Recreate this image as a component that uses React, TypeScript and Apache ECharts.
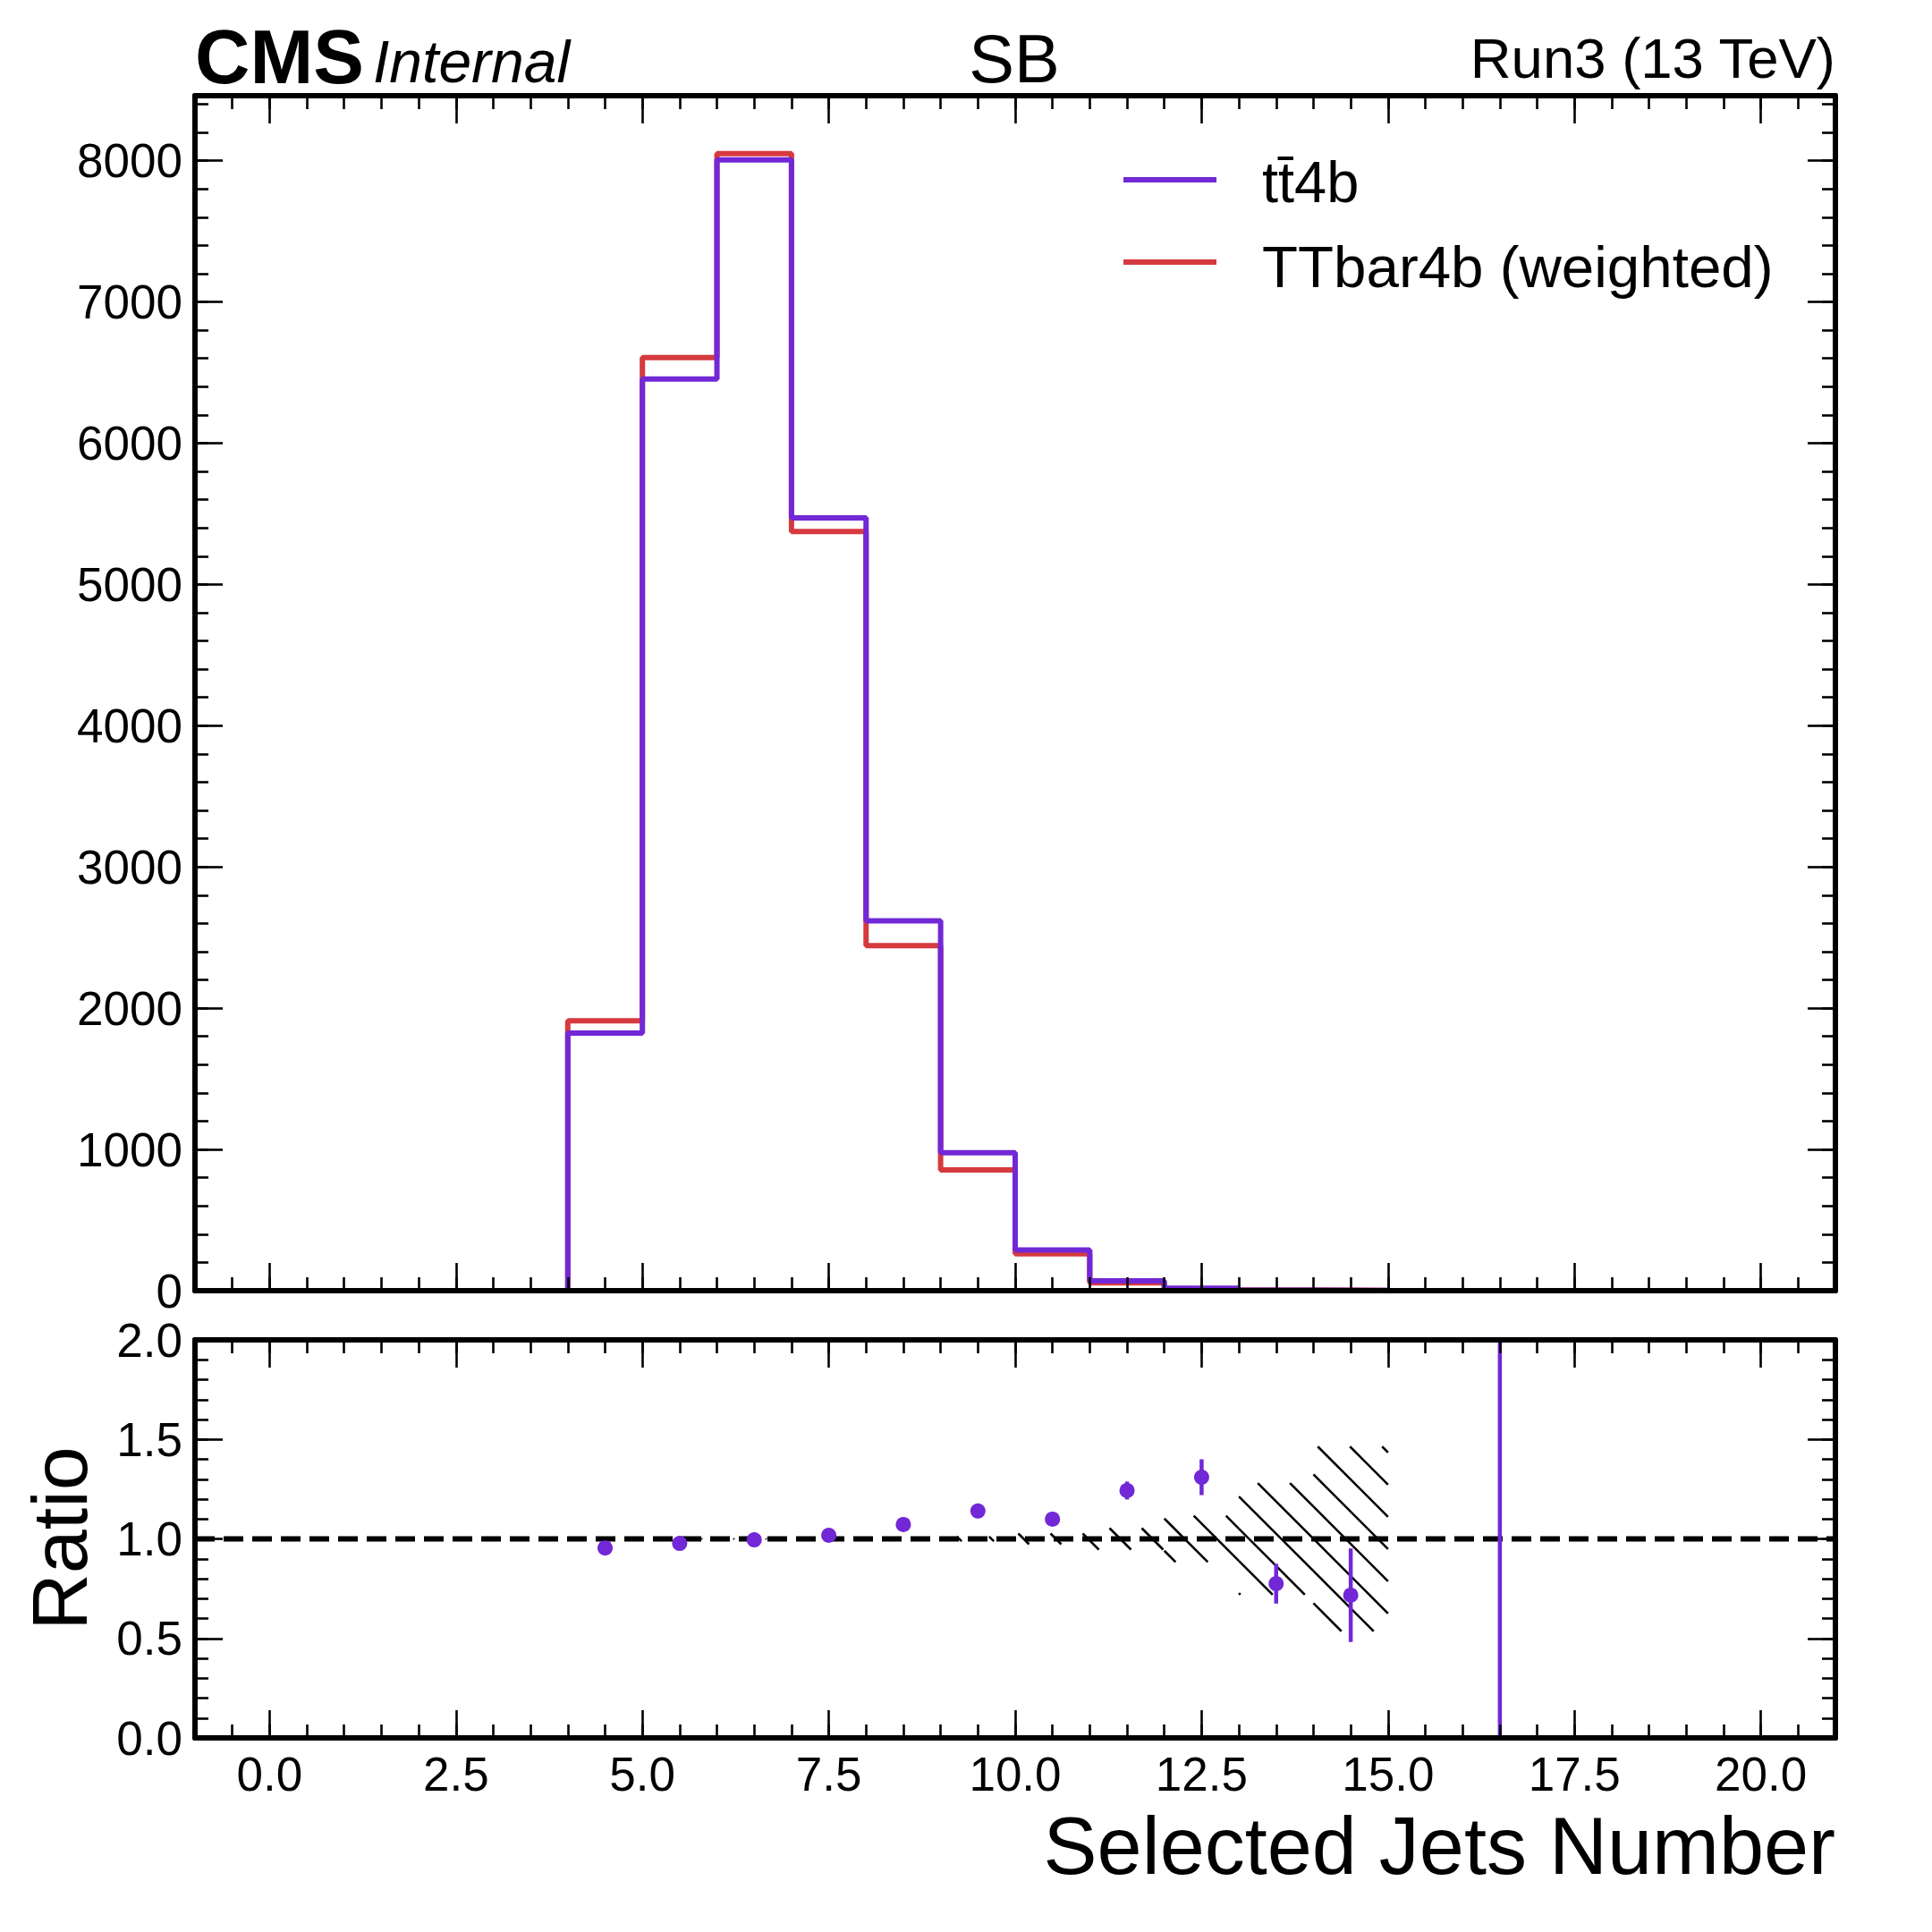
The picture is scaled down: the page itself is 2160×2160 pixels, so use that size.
import React, { useEffect, useRef } from "react";
import * as echarts from "echarts";

// ---------- data ----------
const binEdges = [0, 1, 2, 3, 4, 5, 6, 7, 8, 9, 10, 11, 12, 13, 14, 15, 16, 17, 18, 19, 20];
const tt4b = [0, 0, 0, 0, 1824, 6455, 8005, 5471, 2618, 977, 288, 70, 17, 3.9, 1.45, 0, 0.5, 0, 0, 0];
const ttbar4bWeighted = [0, 0, 0, 0, 1911, 6606, 8050, 5375, 2443, 855, 262, 56, 13, 5, 2, 0, 0, 0, 0, 0];
const ratioVals = [null, null, null, null, 0.954, 0.977, 0.995, 1.018, 1.072, 1.14, 1.099, 1.243, 1.31, 0.775, 0.717, null, Infinity, null, null, null];
const ratioErr = [0, 0, 0, 0, 0.005, 0.003, 0.003, 0.004, 0.007, 0.014, 0.028, 0.045, 0.09, 0.1, 0.235, 0, 0, 0, 0, 0];
const bandErr = [null, null, null, null, 0.003, 0.002, 0.002, 0.002, 0.006, 0.012, 0.027, 0.054, 0.116, 0.28, 0.464, null, null, null, null, null];
const xMajorTicks = [0, 2.5, 5, 7.5, 10, 12.5, 15, 17.5, 20];
const xRange = [-1, 21];
const mainYRange = [0, 8460];
const ratioYRange = [0, 2];
const refValue = 1;

const PURPLE = "#7228d6";
const RED = "#d63a3e";
const FONT = '"Liberation Sans", Arial, Helvetica, sans-serif';

function makeAxis(o: any) {
  const tick: any = {
    show: true,
    inside: true,
    length: o.major ? 31 : 15,
    lineStyle: { color: "#000", width: 2.6 },
  };
  const label: any = {
    show: !!o.labels,
    color: "#000",
    fontSize: 53,
    fontFamily: FONT,
    margin: o.margin ?? 14,
    formatter: o.formatter,
  };
  if (o.customValues) {
    tick.customValues = o.customValues;
    label.customValues = o.customValues;
  }
  const ax: any = {
    type: "value",
    gridIndex: o.gridIndex,
    position: o.position,
    min: o.min,
    max: o.max,
    z: 10,
    splitLine: { show: false },
    axisLine: { show: !!o.line, onZero: false, lineStyle: { color: "#000", width: 6 } },
    axisTick: tick,
    axisLabel: label,
  };
  if (o.interval != null) ax.interval = o.interval;
  return ax;
}

function stepData(vals: number[]) {
  return binEdges.map((e, i) => [e, vals[Math.min(i, vals.length - 1)]]);
}

export default function App() {
  const ref = useRef<HTMLDivElement>(null);
  useEffect(() => {
    document.body.style.margin = "0";
    const chart = echarts.init(ref.current!, null, { renderer: "svg" });

    const xAxes: any[] = [];
    const yAxes: any[] = [];
    [0, 1].forEach((g) => {
      ["bottom", "top"].forEach((pos) => {
        xAxes.push(
          makeAxis({
            gridIndex: g, position: pos, min: xRange[0], max: xRange[1], major: true, line: true,
            customValues: xMajorTicks, labels: g === 1 && pos === "bottom", margin: 14,
            formatter: (v: number) => v.toFixed(1),
          })
        );
        xAxes.push(
          makeAxis({ gridIndex: g, position: pos, min: xRange[0], max: xRange[1], interval: 0.5, major: false })
        );
      });
      const yr = g === 0 ? mainYRange : ratioYRange;
      const majI = g === 0 ? 1000 : 0.5;
      const minI = g === 0 ? 200 : 0.1;
      ["left", "right"].forEach((pos) => {
        yAxes.push(
          makeAxis({
            gridIndex: g, position: pos, min: yr[0], max: yr[1], interval: majI, major: true, line: true,
            labels: pos === "left",
            formatter: g === 0
              ? (v: number) => (Math.abs(v % 1000) < 1e-6 ? String(v) : "")
              : (v: number) => v.toFixed(1),
          })
        );
        yAxes.push(makeAxis({ gridIndex: g, position: pos, min: yr[0], max: yr[1], interval: minI, major: false }));
      });
    });
    // x axes per grid: bottom-major, bottom-minor, top-major, top-minor -> grid0: 0..3, grid1: 4..7
    // y axes per grid: left-major, left-minor, right-major, right-minor -> grid0: 0..3, grid1: 4..7

    const bandData: any[] = [];
    bandErr.forEach((e, i) => {
      if (e != null) bandData.push([binEdges[i], binEdges[i + 1], refValue - e, refValue + e]);
    });
    const pointData: any[] = [];
    const errData: any[] = [];
    ratioVals.forEach((r, i) => {
      if (r == null) return;
      const c = (binEdges[i] + binEdges[i + 1]) / 2;
      if (isFinite(r)) {
        pointData.push([c, r]);
        errData.push([c, r, ratioErr[i], 0]);
      } else {
        errData.push([c, refValue, 0, 1]);
      }
    });

    const option: any = {
      animation: false,
      backgroundColor: "#fff",
      grid: [
        { left: 218, top: 107, width: 1834, height: 1336, containLabel: false },
        { left: 218, top: 1498, width: 1834, height: 445, containLabel: false },
      ],
      xAxis: xAxes,
      yAxis: yAxes,
      series: [
        {
          name: "TTbar4b (weighted)", type: "line", step: "end", xAxisIndex: 0, yAxisIndex: 0,
          data: stepData(ttbar4bWeighted), showSymbol: false, symbol: "none", clip: true, z: 2,
          lineStyle: { color: RED, width: 6 }, itemStyle: { color: RED },
        },
        {
          name: "tt̄4b", type: "line", step: "end", xAxisIndex: 0, yAxisIndex: 0,
          data: stepData(tt4b), showSymbol: false, symbol: "none", clip: true, z: 3,
          lineStyle: { color: PURPLE, width: 6 }, itemStyle: { color: PURPLE },
        },
        {
          type: "custom", xAxisIndex: 4, yAxisIndex: 4, z: 1, clip: true,
          data: bandData,
          encode: { x: [0, 1], y: [2, 3] },
          renderItem: (params: any, api: any) => {
            const p0 = api.coord([api.value(0), api.value(3)]);
            const p1 = api.coord([api.value(1), api.value(2)]);
            const rx0 = p0[0], ry0 = p0[1], rx1 = p1[0], ry1 = p1[1];
            const spacing = 36;
            const children: any[] = [];
            const cmin = rx0 - ry1, cmax = rx1 - ry0;
            for (let c = Math.ceil(cmin / spacing) * spacing; c <= cmax; c += spacing) {
              const xa = Math.max(rx0, ry0 + c);
              const xb = Math.min(rx1, ry1 + c);
              if (xb > xa) {
                children.push({
                  type: "line",
                  shape: { x1: xa, y1: xa - c, x2: xb, y2: xb - c },
                  style: { stroke: "#000", lineWidth: 2.6 },
                });
              }
            }
            return { type: "group", children };
          },
        },
        {
          type: "line", xAxisIndex: 4, yAxisIndex: 4, z: 2, showSymbol: false, symbol: "none",
          data: [[xRange[0], refValue], [xRange[1], refValue]],
          lineStyle: { color: "#000", width: 6, type: [22, 10] },
        },
        {
          type: "custom", xAxisIndex: 4, yAxisIndex: 4, z: 3, clip: true,
          data: errData,
          encode: { x: 0, y: 1 },
          renderItem: (params: any, api: any) => {
            const x = api.value(0), y = api.value(1), e = api.value(2), inf = api.value(3);
            let y1: number, y2: number, px: number;
            const cs = params.coordSys;
            if (inf) {
              px = api.coord([x, y])[0];
              y1 = cs.y;
              y2 = cs.y + cs.height;
            } else {
              const a = api.coord([x, y - e]);
              const b = api.coord([x, y + e]);
              px = a[0]; y1 = b[1]; y2 = a[1];
            }
            return {
              type: "line",
              shape: { x1: px, y1, x2: px, y2 },
              style: { stroke: PURPLE, lineWidth: 4.5 },
            };
          },
        },
        {
          type: "scatter", xAxisIndex: 4, yAxisIndex: 4, z: 4,
          data: pointData, symbol: "circle", symbolSize: 17,
          itemStyle: { color: PURPLE, opacity: 1 },
        },
      ],
      graphic: [
        { type: "text", x: 218, y: 63, style: { text: "CMS", font: `bold 85px ${FONT}`, fill: "#000", align: "left", verticalAlign: "middle", textAlign: "left", textVerticalAlign: "middle" } },
        { type: "text", x: 417, y: 69, style: { text: "Internal", font: `italic 66px ${FONT}`, fill: "#000", align: "left", verticalAlign: "middle", textAlign: "left", textVerticalAlign: "middle" } },
        { type: "text", x: 1134, y: 65, style: { text: "SB", font: `76px ${FONT}`, fill: "#000", align: "center", verticalAlign: "middle", textAlign: "center", textVerticalAlign: "middle" } },
        { type: "text", x: 2052, y: 65, style: { text: "Run3 (13 TeV)", font: `63.5px ${FONT}`, fill: "#000", align: "right", verticalAlign: "middle", textAlign: "right", textVerticalAlign: "middle" } },
        { type: "line", shape: { x1: 1256, y1: 201, x2: 1360, y2: 201 }, style: { stroke: PURPLE, lineWidth: 6 } },
        { type: "line", shape: { x1: 1256, y1: 293, x2: 1360, y2: 293 }, style: { stroke: RED, lineWidth: 6 } },
        { type: "text", x: 1411, y: 203, style: { text: "tt̄4b", font: `65px ${FONT}`, fill: "#000", align: "left", verticalAlign: "middle", textAlign: "left", textVerticalAlign: "middle" } },
        { type: "text", x: 1411, y: 298, style: { text: "TTbar4b (weighted)", font: `65.5px ${FONT}`, fill: "#000", align: "left", verticalAlign: "middle", textAlign: "left", textVerticalAlign: "middle" } },
        { type: "text", x: 2052, y: 2064, style: { text: "Selected Jets Number", font: `90px ${FONT}`, fill: "#000", align: "right", verticalAlign: "middle", textAlign: "right", textVerticalAlign: "middle" } },
        { type: "text", x: 66, y: 1720, rotation: Math.PI / 2, style: { text: "Ratio", font: `88px ${FONT}`, fill: "#000", align: "center", verticalAlign: "middle", textAlign: "center", textVerticalAlign: "middle" } },
      ],
    };
    chart.setOption(option);
    return () => chart.dispose();
  }, []);
  return <div ref={ref} style={{ position: "absolute", left: 0, top: 0, width: 2160, height: 2160 }} />;
}
